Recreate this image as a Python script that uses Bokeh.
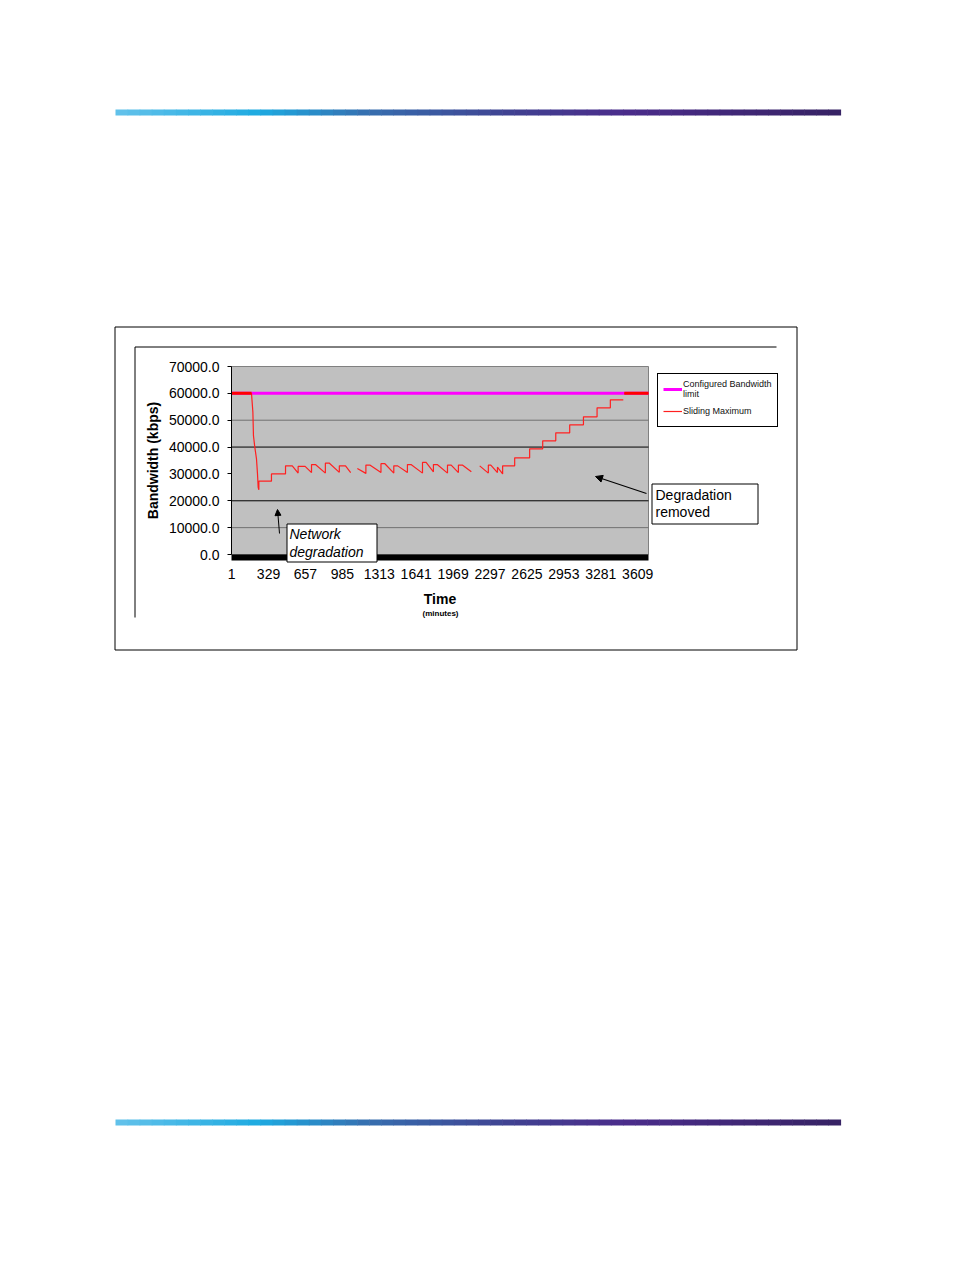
import numpy as np
from bokeh.plotting import figure
from bokeh.models import (Range1d, FixedTicker, NumeralTickFormatter, Legend,
                          LegendItem, Label, BoxAnnotation, Arrow, NormalHead)
from bokeh.embed import file_html
from bokeh.resources import INLINE

# ---------------- data ----------------
x_tick_minutes = [1, 329, 657, 985, 1313, 1641, 1969, 2297, 2625, 2953, 3281, 3609]
y_ticks = [0, 10000, 20000, 30000, 40000, 50000, 60000, 70000]
grid_light = [10000, 50000]
grid_dark = [20000, 40000]
time_span = [0, 3705]

limit_minutes = [1, 3705]
limit_kbps = [60000, 60000]

sliding_minutes = [1, 178, 178, 190, 195, 207, 222, 231, 237, 243, 243, 355, 355, 480, 480, 540,
                   592, 592, 654, 711, 711, 746, 834, 834, 870, 958, 958, 1013, 1059, np.nan,
                   1118, 1194, 1194, 1229, 1328, 1328, 1363, 1442, 1442, 1477, 1563, 1563, 1595,
                   1697, 1697, 1729, 1794, 1794, 1828, 1919, 1919, 1952, 2016, 2016, 2051, 2131,
                   np.nan, 2205, 2282, 2282, 2304, 2363, 2363, 2409, 2409, 2516, 2516, 2649, 2649,
                   2765, 2765, 2881, 2881, 3005, 3005, 3127, 3127, 3248, 3248, 3366, 3366, 3481,
                   np.nan, 3490, 3705]
sliding_kbps = [60000, 60000, 59800, 53000, 44300, 40000, 35600, 30000, 25000, 24100, 27300, 27300,
                30000, 30000, 33000, 33000, 30300, 32800, 32800, 30500, 33500, 33500, 30300, 34000,
                34000, 30600, 33000, 33000, 30500, np.nan, 32000, 30200, 33300, 33300, 30500, 33800,
                33800, 30300, 33000, 33000, 30500, 33500, 33500, 30300, 34300, 34300, 30800, 33500,
                33500, 30300, 33300, 33300, 30500, 33300, 33300, 30800, np.nan, 33000, 30300, 33300,
                33300, 30500, 32500, 30000, 33000, 33000, 36000, 36000, 39350, 39350, 42330, 42330,
                45300, 45300, 48270, 48270, 51250, 51250, 54600, 54600, 57600, 57600, np.nan,
                60000, 60000]

# ---------------- page geometry ----------------
W, H = 946, 1264
FONT = "Liberation Sans"
PX0, PX1 = 231, 648          # page x of time_span
PY70, PY0 = 366, 554         # page y of 70000 and 0
KX = (time_span[1] - time_span[0]) / (PX1 - PX0)
KY = 70000 / (PY0 - PY70)
def dx(px):
    return time_span[0] + (px - PX0) * KX
def dy(py):
    return (PY0 - py) * KY
BAR = dy(560)  # bottom of black floor bar

p = figure(width=W, height=H, output_backend="svg", toolbar_location=None,
           x_range=Range1d(dx(0), dx(W)), y_range=Range1d(dy(H), dy(0)),
           min_border=0, min_border_left=0, min_border_right=0,
           min_border_top=0, min_border_bottom=0)
p.background_fill_color = "white"
p.border_fill_color = "white"
p.outline_line_color = None
p.xgrid.visible = False
p.ygrid.visible = False

# plot area (underlay so the lines stay on top)
p.add_layout(BoxAnnotation(left=time_span[0], right=time_span[1], bottom=0, top=y_ticks[-1],
                           fill_color="#c0c0c0", fill_alpha=1, line_color="#808080",
                           line_alpha=1, line_width=1, level="underlay"))
p.segment(x0=[time_span[0]] * len(grid_light), x1=[time_span[1]] * len(grid_light),
          y0=grid_light, y1=grid_light, line_color="#707070", line_width=1)
p.segment(x0=[time_span[0]] * len(grid_dark), x1=[time_span[1]] * len(grid_dark),
          y0=grid_dark, y1=grid_dark, line_color="black", line_width=1)
p.add_layout(BoxAnnotation(left=time_span[0], right=time_span[1], bottom=BAR, top=0,
                           fill_color="black", fill_alpha=1, line_color=None))

# axes at fixed locations
ya = p.yaxis[0]
ya.fixed_location = time_span[0]
ya.bounds = (0, 70000)
ya.ticker = FixedTicker(ticks=y_ticks)
ya.formatter = NumeralTickFormatter(format="0.0")
ya.major_label_text_font = FONT
ya.major_label_text_font_size = "14px"
ya.major_label_text_color = "black"
ya.major_tick_out = 4
ya.major_tick_in = 0
ya.minor_tick_out = 0
ya.minor_tick_in = 0
ya.major_label_standoff = 8
ya.axis_line_color = "black"
ya.axis_label = "Bandwidth (kbps)"
ya.axis_label_text_font = FONT
ya.axis_label_text_font_size = "14px"
ya.axis_label_text_font_style = "bold"
ya.axis_label_text_color = "black"
ya.axis_label_standoff = 5

xa = p.xaxis[0]
xa.fixed_location = BAR
xa.bounds = (time_span[0], time_span[1])
xa.ticker = FixedTicker(ticks=x_tick_minutes)
xa.formatter = NumeralTickFormatter(format="0")
xa.major_label_text_font = FONT
xa.major_label_text_font_size = "14px"
xa.major_label_text_color = "black"
xa.major_tick_out = 0
xa.major_tick_in = 0
xa.minor_tick_out = 0
xa.minor_tick_in = 0
xa.axis_line_color = None
xa.major_label_standoff = 8
xa.axis_label = "Time"
xa.axis_label_text_font = FONT
xa.axis_label_text_font_size = "14px"
xa.axis_label_text_font_style = "bold"
xa.axis_label_text_color = "black"
xa.axis_label_standoff = 9

# series
limit_r = p.line(limit_minutes, limit_kbps, line_color="#ff00ff", line_width=3)
series_r = p.line(sliding_minutes, sliding_kbps, line_color="#ff2020", line_width=1.2)
sk = np.array(sliding_kbps, dtype=float)
at_limit = np.where(sk >= limit_kbps[0], sk, np.nan)
p.line(sliding_minutes, at_limit, line_color="#ff0000", line_width=3)

# legend (box spans page x 657..775, y 373..427; tuple gives bottom-left)
legend = Legend(items=[LegendItem(label="Configured Bandwidth\nlimit", renderers=[limit_r]),
                       LegendItem(label="Sliding Maximum", renderers=[series_r])],
                location=(657, H - 427), margin=0, padding=5, spacing=2,
                glyph_width=19, glyph_height=12, label_standoff=1, label_height=20,
                label_text_font=FONT, label_text_font_size="9px", label_text_color="#111111",
                label_text_line_height=1.4,
                border_line_color="black", border_line_width=1, border_line_alpha=1,
                background_fill_color="white", background_fill_alpha=1)
p.add_layout(legend)

# "(minutes)"
p.add_layout(Label(x=dx(440), y=dy(613), text="(minutes)", text_font=FONT, text_font_size="8px",
                   text_font_style="bold", text_align="center", text_baseline="middle",
                   text_color="black"))

# annotation boxes
p.add_layout(BoxAnnotation(left=dx(286.5), right=dx(376.5), top=dy(523.5), bottom=dy(561.5),
                           fill_color="white", fill_alpha=1, line_color="black", line_alpha=1,
                           line_width=1))
p.add_layout(Label(x=dx(289), y=dy(533), text="Network", text_font=FONT, text_font_size="14px",
                   text_font_style="italic", text_baseline="middle", text_color="black"))
p.add_layout(Label(x=dx(289), y=dy(551), text="degradation", text_font=FONT, text_font_size="14px",
                   text_font_style="italic", text_baseline="middle", text_color="black"))

p.add_layout(BoxAnnotation(left=dx(651.5), right=dx(757.5), top=dy(483.5), bottom=dy(523.5),
                           fill_color="white", fill_alpha=1, line_color="black", line_alpha=1,
                           line_width=1))
p.add_layout(Label(x=dx(655), y=dy(494), text="Degradation", text_font=FONT, text_font_size="14px",
                   text_baseline="middle", text_color="black"))
p.add_layout(Label(x=dx(655), y=dy(511), text="removed", text_font=FONT, text_font_size="14px",
                   text_baseline="middle", text_color="black"))

# arrows
p.add_layout(Arrow(x_start=dx(279), y_start=dy(533), x_end=dx(277), y_end=dy(509),
                   line_width=1, end=NormalHead(size=6, fill_color="black", line_color="black")))
p.add_layout(Arrow(x_start=dx(646), y_start=dy(493), x_end=dx(595), y_end=dy(476),
                   line_width=1.3, end=NormalHead(size=7, fill_color="black", line_color="black")))

# chart area frame lines
p.add_layout(BoxAnnotation(left=dx(114.5), right=dx(796.5), top=dy(326.5), bottom=dy(649.5),
                           fill_alpha=0, line_color="black", line_alpha=1, line_width=1))
p.add_layout(Arrow(x_start=dx(134.5), y_start=dy(346.5), x_end=dx(776), y_end=dy(346.5),
                   end=None, line_width=1, line_color="black"))
p.add_layout(Arrow(x_start=dx(134.5), y_start=dy(346.5), x_end=dx(134.5), y_end=dy(617),
                   end=None, line_width=1, line_color="black"))

# page gradient rules (decoration)
stops = [(0.0, (100, 195, 235)), (0.2, (30, 170, 225)), (0.35, (55, 110, 175)),
         (0.55, (65, 65, 145)), (0.7, (75, 45, 140)), (1.0, (55, 35, 100))]
def grad(t):
    for (t0, c0), (t1, c1) in zip(stops[:-1], stops[1:]):
        if t <= t1:
            f = (t - t0) / (t1 - t0)
            return "#%02x%02x%02x" % tuple(int(a + (b - a) * f) for a, b in zip(c0, c1))
    return "#%02x%02x%02x" % stops[-1][1]
N = 60
L0, R0 = 115, 840
for top_py in (109, 1119):
    for i in range(N):
        a = L0 + (R0 - L0) * i / N
        b = L0 + (R0 - L0) * (i + 1) / N + 0.6
        p.add_layout(BoxAnnotation(left=dx(a), right=dx(b), top=dy(top_py), bottom=dy(top_py + 6),
                                   fill_color=grad((i + 0.5) / N), fill_alpha=1, line_color=None))

open("out.html", "w").write(file_html(p, INLINE))
